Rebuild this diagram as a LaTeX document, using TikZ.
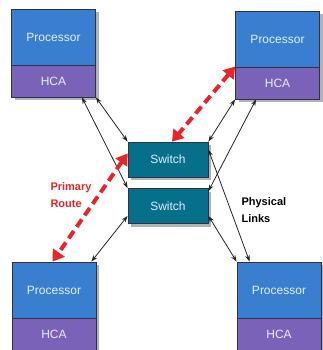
\documentclass[tikz,border=0pt]{standalone}
\usepackage{fontspec}
\setmainfont{Liberation Sans}
\usetikzlibrary{arrows.meta,shadows}
\definecolor{procblue}{RGB}{58,126,208}
\definecolor{hcapurple}{RGB}{122,98,184}
\definecolor{switchteal}{RGB}{6,112,138}
\definecolor{routered}{RGB}{232,38,42}
\definecolor{boxedge}{RGB}{45,50,70}
\definecolor{boxtext}{RGB}{225,238,255}
\tikzset{
    box/.style={draw=boxedge, line width=0.8pt, text=boxtext, inner sep=0pt,
        font=\fontsize{12}{14}\selectfont,
        drop shadow={shadow xshift=3pt, shadow yshift=-3pt, opacity=0.3, fill=black}},
    proc/.style={box, fill=procblue, minimum width=84pt, minimum height=56pt},
    hca/.style={box, fill=hcapurple, minimum width=84pt, minimum height=32pt},
    switchbox/.style={box, fill=switchteal, minimum width=80pt, minimum height=35pt},
    link/.style={black!85, line width=0.8pt,
        {Stealth[length=6.5pt,width=4.5pt]}-{Stealth[length=6.5pt,width=4.5pt]}},
    route/.style={routered, line width=4pt, dash pattern=on 9pt off 5pt,
        {Triangle[length=11pt,width=14pt]}-{Triangle[length=11pt,width=14pt]}},
    label/.style={anchor=west, align=left, font=\bfseries\fontsize{11}{16.5}\selectfont}
}

\begin{document}
\begin{tikzpicture}[x=1pt,y=-1pt]
    \fill[white] (0,0) rectangle (322,350);
    \useasboundingbox (0,0) rectangle (322,350);
    % hosts
    \node[proc] (tlp) at (53.5,37) {Processor};
    \node[hca] (tlh) at (53.5,81) {HCA};
    \node[proc] (trp) at (277.5,39) {Processor};
    \node[hca] (trh) at (277.5,83) {HCA};
    \node[proc] (blp) at (54,290) {Processor};
    \node[hca] (blh) at (54,334) {HCA};
    \node[proc] (brp) at (279,290) {Processor};
    \node[hca] (brh) at (279,334) {HCA};
    % switches
    \node[switchbox] (sw1) at (168,159.5) {Switch};
    \node[switchbox] (sw2) at (168,206) {Switch};
    % physical links
    \draw[link] (tlh.south east) -- (sw1.north west);
    \draw[link] ([xshift=-14pt]tlh.south east) -- (sw2.north west);
    \draw[link] (trh.south west) -- (sw1.north east);
    \draw[link] ([xshift=21pt]trh.south west) -- ([yshift=-3pt]sw2.north east);
    \draw[link] ([yshift=-8pt]sw1.north east) -- ([xshift=13pt]brp.north west);
    \draw[link] ([yshift=8pt]sw2.south east) -- (brp.north west);
    \draw[link] ([yshift=8pt]sw2.south west) -- ([xshift=-5pt]blp.north east);
    % primary route
    \draw[route] (trh.north west) -- ([xshift=4pt]sw1.north);
    \draw[route] ([yshift=6pt]sw1.west) -- ([xshift=41pt]blp.north west);
    \node[label, text=routered] (primary) at (47,195) {Primary\\Route};
    \node[label] (physical) at (238,210) {Physical\\Links};
\end{tikzpicture}
\end{document}
